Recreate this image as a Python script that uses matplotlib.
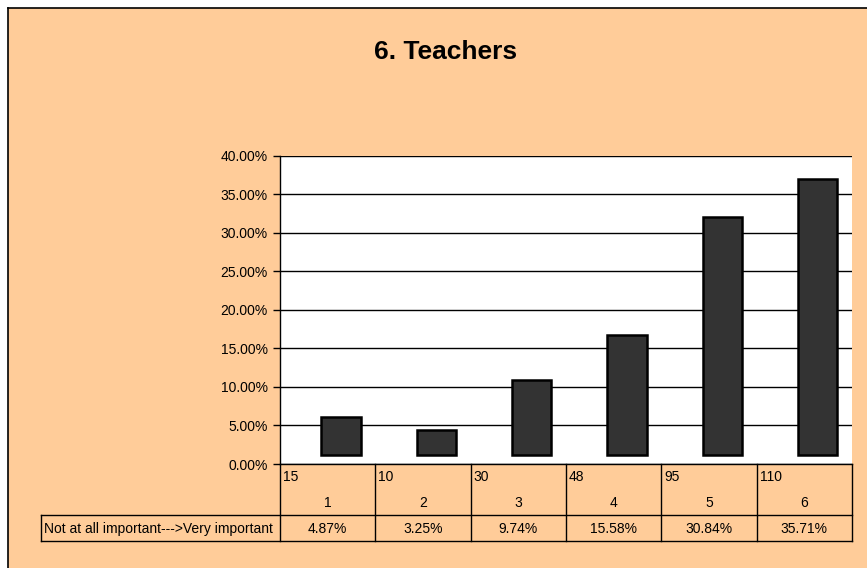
import matplotlib.pyplot as plt
from matplotlib.lines import Line2D
from matplotlib.patches import Rectangle
from matplotlib.transforms import blended_transform_factory

plt.rcParams['font.family'] = ['Liberation Sans', 'DejaVu Sans']

# Data
categories = ['1', '2', '3', '4', '5', '6']
counts = [15, 10, 30, 48, 95, 110]
percents = [4.87, 3.25, 9.74, 15.58, 30.84, 35.71]
row_label = 'Not at all important--->Very important'
title = '6. Teachers'

bg = '#FFCC99'
W, H = 867, 568

fig = plt.figure(figsize=(W / 100, H / 100), dpi=100)
fig.patch.set_facecolor('white')

# orange chart area with black border on top/left
fig.add_artist(Rectangle((8 / W, 0), 1, 1 - 8 / H, transform=fig.transFigure,
                         facecolor=bg, edgecolor='none', zorder=0))
fig.add_artist(Line2D([7.5 / W, 1], [1 - 7.5 / H] * 2, color='black', lw=1.2))
fig.add_artist(Line2D([7.5 / W] * 2, [0, 1 - 7.5 / H], color='black', lw=1.2))

fig.text(446 / W, 1 - 52 / H, title, ha='center', va='center',
         fontsize=19, fontweight='bold')

ax = fig.add_axes([280 / W, 1 - 464 / H, (852 - 280) / W, (464 - 155.5) / H])
ax.set_facecolor('white')

# Excel-like depth offset of the bars
x = list(range(len(categories)))
shift = 0.14
base = 1.2
ax.bar([i + shift for i in x], percents, bottom=base, width=0.41,
       color='#333333', edgecolor='black', linewidth=1.8, zorder=3)

ax.set_xlim(-0.5, 5.5)
ax.set_ylim(0, 40)
ax.set_yticks(range(0, 45, 5))
ax.set_yticklabels([f'{v:.2f}%' for v in range(0, 45, 5)], fontsize=10)
ax.yaxis.grid(True, color='black', lw=1)
ax.set_axisbelow(True)
ax.set_xticks([])
ax.tick_params(axis='y', length=5, width=1, pad=4)
for s in ['top', 'right']:
    ax.spines[s].set_visible(False)
ax.spines['left'].set_linewidth(1)
ax.spines['bottom'].set_linewidth(1)

# data table below the plot
tr = blended_transform_factory(ax.transData, ax.transAxes)
ph = 464 - 155.5
r1 = -51 / ph
r2 = -77 / ph
left_x = -0.5 - (280 - 41) / ((852 - 280) / 6)
lkw = dict(transform=tr, color='black', lw=1, clip_on=False)

for b in [i - 0.5 for i in range(len(categories) + 1)]:
    ax.add_line(Line2D([b, b], [0, r2], **lkw))
ax.add_line(Line2D([left_x, 5.5], [r1, r1], **lkw))
ax.add_line(Line2D([left_x, 5.5], [r2, r2], **lkw))
ax.add_line(Line2D([left_x, left_x], [r1, r2], **lkw))

for i, (c, n, p) in enumerate(zip(categories, counts, percents)):
    ax.text(i - 0.47, -13 / ph, str(n), transform=tr, ha='left', va='center',
            fontsize=10)
    ax.text(i, -39 / ph, c, transform=tr, ha='center', va='center',
            fontsize=10)
    ax.text(i, -65 / ph, f'{p:.2f}%', transform=tr, ha='center',
            va='center', fontsize=10)
ax.text(left_x + 0.03, -65 / ph, row_label, transform=tr, ha='left',
        va='center', fontsize=10)

fig.savefig('out.png', dpi=100, facecolor=fig.get_facecolor())
